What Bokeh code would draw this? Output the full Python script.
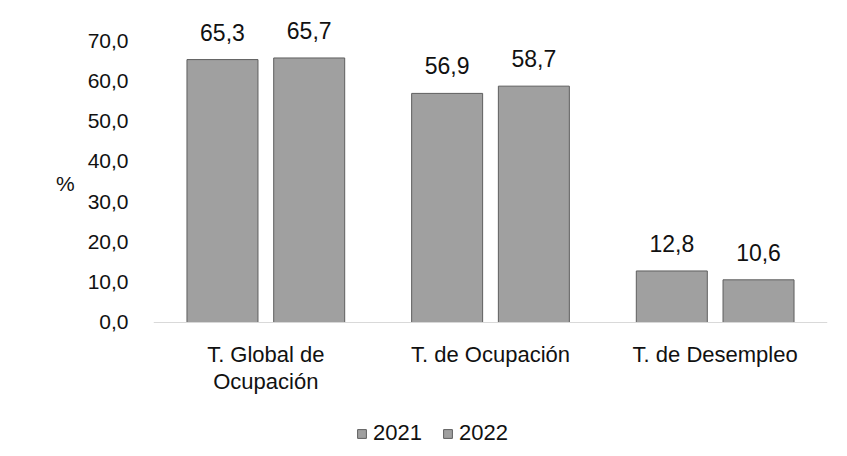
from bokeh.plotting import figure
from bokeh.models import ColumnDataSource, FactorRange, FixedTicker, LabelSet, Legend, LegendItem, Span
from bokeh.transform import dodge
from bokeh.embed import file_html
from bokeh.resources import INLINE
from bokeh.core.properties import value

categories = ["T. Global de\nOcupación", "T. de Ocupación", "T. de Desempleo"]
series_names = ["2021", "2022"]
values_2021 = [65.3, 56.9, 12.8]
values_2022 = [65.7, 58.7, 10.6]
y_ticks = [0, 10, 20, 30, 40, 50, 60, 70]
y_tick_labels = ["0,0", "10,0", "20,0", "30,0", "40,0", "50,0", "60,0", "70,0"]
y_axis_title = "%"

def fmt(v):
    return f"{v:.1f}".replace(".", ",")

line1 = [c.split("\n")[0] for c in categories]
line2 = [c.split("\n")[1] if "\n" in c else "" for c in categories]

src = ColumnDataSource(dict(
    cat=categories,
    zero=[0] * len(categories),
    line1=line1,
    line2=line2,
    v2021=values_2021,
    v2022=values_2022,
    l2021=[fmt(v) for v in values_2021],
    l2022=[fmt(v) for v in values_2022],
))

FONT = "Liberation Sans"
TXT = "#111111"

p = figure(x_range=FactorRange(*categories, range_padding=0), y_range=(-30.8, 76),
           width=839, height=448, frame_width=674, frame_height=430,
           x_axis_location=None,
           output_backend="svg", toolbar_location=None,
           min_border_left=153, min_border_right=12, min_border_top=16, min_border_bottom=2,
           background_fill_color="white", border_fill_color="white")
p.outline_line_color = None
p.grid.visible = False

bar_fill = "#a0a0a0"
bar_line = "#5e5e5e"
r1 = p.vbar(x=dodge("cat", -0.193, range=p.x_range), top="v2021", width=0.316, source=src,
            fill_color=bar_fill, line_color=bar_line, line_width=1)
r2 = p.vbar(x=dodge("cat", 0.193, range=p.x_range), top="v2022", width=0.316, source=src,
            fill_color=bar_fill, line_color=bar_line, line_width=1)

# baseline (category axis line)
p.add_layout(Span(location=0, dimension="width", line_color="#d9d9d9", line_width=1))

for col, off in (("2021", -0.193), ("2022", 0.193)):
    ls = LabelSet(x=dodge("cat", off, range=p.x_range), y="v" + col, text="l" + col, source=src,
                  text_align="center", text_baseline="bottom", y_offset=19,
                  text_font=value(FONT), text_font_size="23px", text_color=TXT)
    p.add_layout(ls)

# category labels under the baseline (two centred rows)
for col, off in (("line1", -20), ("line2", -47)):
    cl = LabelSet(x="cat", y="zero", text=col, source=src,
                  text_align="center", text_baseline="top", y_offset=off,
                  text_font=value(FONT), text_font_size="22px", text_color=TXT)
    p.add_layout(cl)

yax = p.yaxis[0]
yax.ticker = FixedTicker(ticks=y_ticks)
yax.major_label_overrides = {t: l for t, l in zip(y_ticks, y_tick_labels)}
yax.axis_line_color = None
yax.major_tick_line_color = None
yax.minor_tick_line_color = None
yax.major_label_text_font = FONT
yax.major_label_text_font_size = "21px"
yax.major_label_text_color = TXT
yax.major_label_standoff = 19
yax.axis_label = y_axis_title + "\n\n\n"
yax.axis_label_text_font = FONT
yax.axis_label_text_font_size = "21px"
yax.axis_label_text_font_style = "normal"
yax.axis_label_text_color = TXT
yax.axis_label_text_line_height = 1.4
yax.axis_label_standoff = 10
if hasattr(yax, "axis_label_orientation"):
    yax.axis_label_orientation = "horizontal"

legend = Legend(items=[LegendItem(label=series_names[0], renderers=[r1]),
                       LegendItem(label=series_names[1], renderers=[r2])],
                orientation="horizontal", location=(203, 0),
                label_text_font=FONT, label_text_font_size="22px", label_text_color=TXT,
                glyph_width=11, glyph_height=11, label_standoff=6, spacing=20,
                border_line_color=None, background_fill_alpha=0, padding=3, margin=0)
p.add_layout(legend, "center")

open("out.html", "w").write(file_html(p, INLINE))
